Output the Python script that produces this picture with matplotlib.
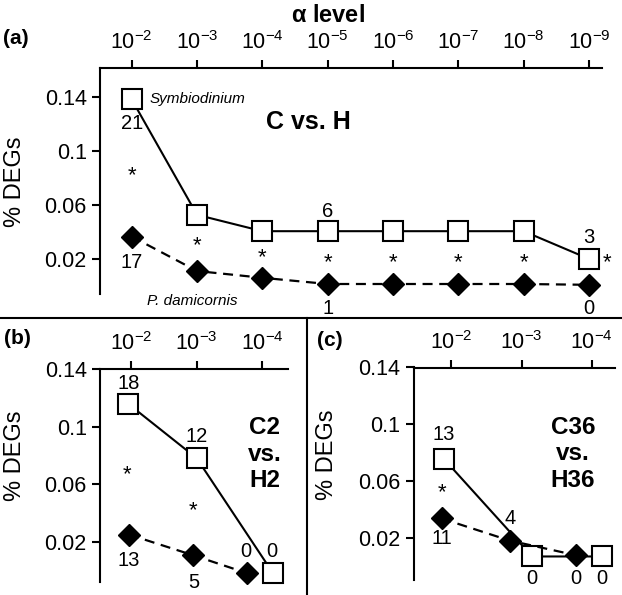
import matplotlib
matplotlib.use('Agg')
import matplotlib.pyplot as plt
from matplotlib.lines import Line2D

plt.rcParams['font.family'] = ['Liberation Sans', 'DejaVu Sans']
plt.rcParams['mathtext.fontset'] = 'custom'
plt.rcParams['mathtext.rm'] = 'Liberation Sans'
plt.rcParams['mathtext.it'] = 'Liberation Sans:italic'
plt.rcParams['mathtext.bf'] = 'Liberation Sans:bold'

# alpha levels (top axis)
alpha_a = [r'$10^{-2}$', r'$10^{-3}$', r'$10^{-4}$', r'$10^{-5}$',
           r'$10^{-6}$', r'$10^{-7}$', r'$10^{-8}$', r'$10^{-9}$']
alpha_bc = alpha_a[:3]

# panel (a) C vs. H
sym_a = [0.1380, 0.0526, 0.0405, 0.0405, 0.0405, 0.0405, 0.0405, 0.0200]
pdam_a = [0.0365, 0.0110, 0.0060, 0.0014, 0.0014, 0.0014, 0.0014, 0.0008]

# panel (b) C2 vs. H2
sym_b_x = [-0.04, 1.0, 2.16]
sym_b = [0.1158, 0.0781, -0.0016]
pdam_b_x = [-0.03, 0.95, 1.76]
pdam_b = [0.0251, 0.0107, -0.0016]

# panel (c) C36 vs. H36
sym_c_x = [-0.105, 1.15, 2.14]
sym_c = [0.0754, 0.0067, 0.0067]
pdam_c_x = [-0.14, 0.83, 1.77]
pdam_c = [0.0335, 0.0179, 0.0076]

# count labels: (x, y, text)
counts_a = [(0, 0.1200, '21'), (0, 0.0175, '17'), (3, 0.0553, '6'), (3, -0.0170, '1'),
            (7, 0.0360, '3'), (7, -0.0165, '0')]
counts_b = [(-0.04, 0.1302, '18'), (1.0, 0.0931, '12'), (-0.03, 0.0073, '13'),
            (0.95, -0.0078, '5'), (1.75, 0.0135, '0'), (2.15, 0.0135, '0')]
counts_c = [(-0.105, 0.0927, '13'), (-0.14, 0.0194, '11'), (0.83, 0.0335, '4'),
            (1.15, -0.0085, '0'), (1.77, -0.0085, '0'), (2.14, -0.0085, '0')]

# significance stars (x, y)
stars_a = [(0, 0.085), (1, 0.0331), (2, 0.024), (3, 0.020), (4, 0.020),
           (5, 0.020), (6, 0.020), (7.28, 0.020)]
stars_b = [(-0.06, 0.0699), (0.95, 0.0444)]
stars_c = [(-0.14, 0.055)]

yticks = [0.02, 0.06, 0.1, 0.14]
ytick_labels = ['0.02', '0.06', '0.1', '0.14']

W, H = 622, 595
fig = plt.figure(figsize=(W / 100, H / 100), dpi=100)


def px_axes(left, top, right, bottom):
    return fig.add_axes([left / W, 1 - bottom / H, (right - left) / W, (bottom - top) / H])


def draw_panel(ax, xs_sym, ys_sym, xs_pd, ys_pd, labels, xlim, ylim, counts, stars):
    ax.plot(xs_sym, ys_sym, '-', color='black', lw=1.5, marker='s', ms=15,
            mfc='white', mec='black', mew=1.5, clip_on=False, zorder=3)
    ax.plot(xs_pd, ys_pd, '--', color='black', lw=1.6, marker='D', ms=11.5,
            mfc='black', mec='black', dashes=(4.5, 3), clip_on=False, zorder=4)
    ax.set_xlim(xlim)
    ax.set_ylim(ylim)
    ax.xaxis.tick_top()
    ax.set_xticks(range(len(labels)))
    ax.set_xticklabels(labels)
    ax.set_yticks(yticks)
    ax.set_yticklabels(ytick_labels)
    ax.tick_params(labelsize=15.5, length=6, width=1.5, direction='out')
    ax.tick_params(axis='x', pad=4)
    for s in ['right', 'bottom']:
        ax.spines[s].set_visible(False)
    for s in ['top', 'left']:
        ax.spines[s].set_linewidth(1.5)
    ax.patch.set_visible(False)
    for x, y, t in counts:
        ax.text(x, y, t, ha='center', va='center', fontsize=14.5, clip_on=False)
    for x, y in stars:
        ax.annotate('*', xy=(x, y), xytext=(0, -7), textcoords='offset points',
                    ha='center', va='baseline', fontsize=16, annotation_clip=False)


# panel (a)
ax_a = px_axes(100, 68, 602, 294)
draw_panel(ax_a, range(len(sym_a)), sym_a, range(len(pdam_a)), pdam_a, alpha_a,
           (-0.486, 7.2), (-0.006, 0.1613), counts_a, stars_a)
ax_a.text(0.28, 0.1383, 'Symbiodinium', style='italic', fontsize=11, va='center')
ax_a.text(2.71, 0.1214, 'C vs. H', fontweight='bold', fontsize=18, ha='center', va='center')
ax_a.text(0.93, -0.011, 'P. damicornis', style='italic', fontsize=11, ha='center', va='center')

# panel (b)
ax_b = px_axes(100, 369, 288, 582)
draw_panel(ax_b, sym_b_x, sym_b, pdam_b_x, pdam_b, alpha_bc,
           (-0.471, 2.389), (-0.0078, 0.14), counts_b, stars_b)
ax_b.text(2.03, 0.081, 'C2\nvs.\nH2', fontweight='bold', fontsize=17.5, ha='center',
          va='center', linespacing=1.2)

# panel (c)
ax_c = px_axes(413.5, 367.5, 615, 580)
draw_panel(ax_c, sym_c_x, sym_c, pdam_c_x, pdam_c, alpha_bc,
           (-0.54, 2.33), (-0.0099, 0.14), counts_c, stars_c)
ax_c.text(1.73, 0.079, 'C36\nvs.\nH36', fontweight='bold', fontsize=17.5, ha='center',
          va='center', linespacing=1.2)

# figure text
fig.text(328 / W, 1 - 16 / H, r'$\mathbf{\alpha}$ level', fontweight='bold', fontsize=17,
         ha='center', va='center')
fig.text(3 / W, 1 - 38 / H, '(a)', fontweight='bold', fontsize=15, ha='left', va='center')
fig.text(4 / W, 1 - 339 / H, '(b)', fontweight='bold', fontsize=15, ha='left', va='center')
fig.text(317 / W, 1 - 340 / H, '(c)', fontweight='bold', fontsize=15, ha='left', va='center')
fig.text(15 / W, 1 - 182 / H, '% DEGs', rotation=90, fontsize=17, ha='center', va='center')
fig.text(15 / W, 1 - 456 / H, '% DEGs', rotation=90, fontsize=17, ha='center', va='center')
fig.text(327 / W, 1 - 455 / H, '% DEGs', rotation=90, fontsize=17, ha='center', va='center')

# panel separators
fig.add_artist(Line2D([0, 1], [1 - 318 / H, 1 - 318 / H], color='black', lw=1.5,
                      transform=fig.transFigure))
fig.add_artist(Line2D([306.5 / W, 306.5 / W], [0, 1 - 318 / H], color='black', lw=1.5,
                      transform=fig.transFigure))

fig.savefig('out.png', dpi=100)
